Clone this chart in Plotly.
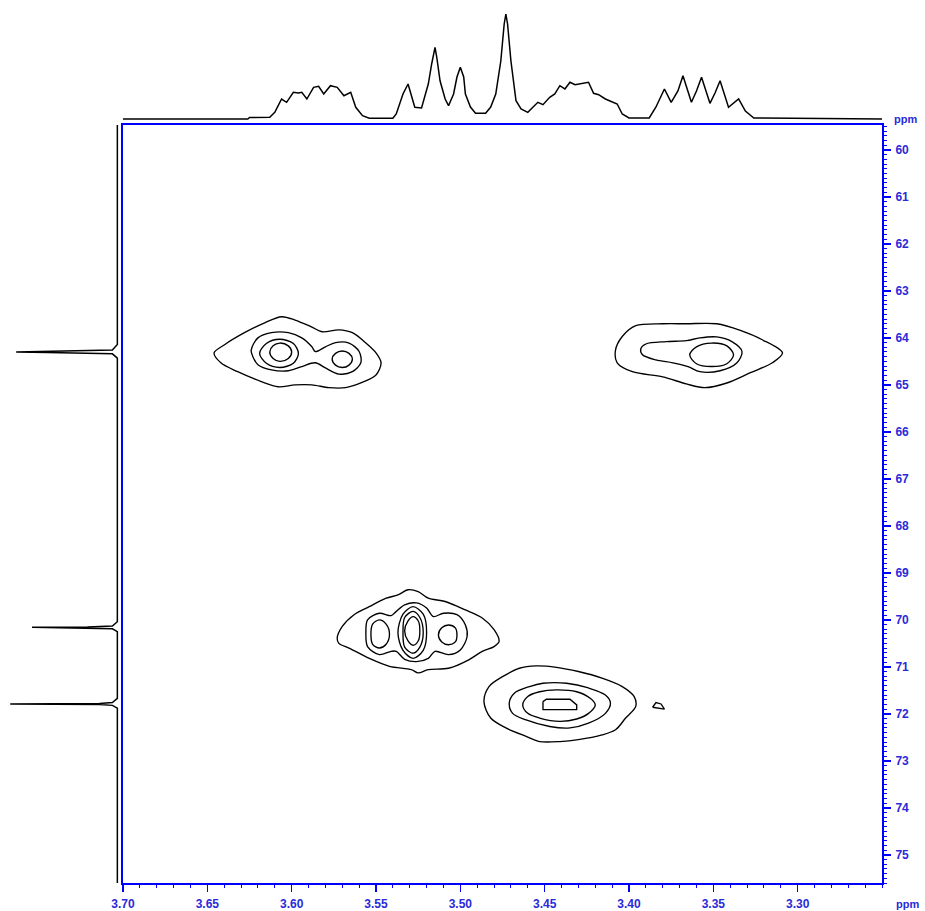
import plotly.graph_objects as go

# ---------------- 1D projection on top (F2, 1H) ----------------
top_ppm = [3.700, 3.626, 3.625, 3.613, 3.610, 3.608, 3.606, 3.603, 3.599, 3.596, 3.594, 3.591,
           3.587, 3.584, 3.581, 3.577, 3.573, 3.569, 3.565, 3.562, 3.558, 3.554, 3.540, 3.538,
           3.534, 3.531, 3.527, 3.523, 3.519, 3.517, 3.515, 3.514, 3.512, 3.509, 3.507, 3.504,
           3.502, 3.500, 3.498, 3.497, 3.494, 3.491, 3.485, 3.482, 3.479, 3.476, 3.474, 3.473,
           3.472, 3.470, 3.467, 3.464, 3.460, 3.457, 3.454, 3.451, 3.447, 3.444, 3.441, 3.438,
           3.435, 3.432, 3.429, 3.424, 3.421, 3.418, 3.414, 3.410, 3.407, 3.404, 3.400, 3.388,
           3.384, 3.379, 3.375, 3.371, 3.368, 3.363, 3.360, 3.357, 3.352, 3.349, 3.346, 3.341,
           3.335, 3.331, 3.326, 3.250]
top_int = [0, 0, 1.5, 1.7, 6.7, 13.3, 20, 16.7, 26.7, 26, 26.7, 20,
           31.7, 32.7, 25, 33.3, 31.7, 23.3, 26.7, 11.7, 3.3, 0.7, 0.7, 5,
           25, 35, 11.7, 11, 35, 55, 71.7, 62, 38, 20, 13.3, 25,
           42, 51.7, 42, 25, 12, 5.7, 5.7, 12, 25, 58, 95, 105,
           95, 58, 18.3, 10, 6.7, 11.7, 16.7, 14.3, 21.7, 25, 33.3, 30,
           36.7, 34.3, 35, 36.7, 25.7, 24.3, 20, 16.7, 15, 5, 1, 1,
           12, 30, 16.7, 28, 43.3, 16.7, 28, 41.7, 15.7, 26, 38.3, 11.7,
           20, 8, 1, 0]

# ---------------- 1D projection on the left (F1, 13C) ----------------
left_ppm = [59.40, 64.14, 64.26, 64.29, 64.30, 64.31, 64.34, 64.43,
            70.04, 70.13, 70.15, 70.16, 70.17, 70.19, 70.25,
            71.67, 71.76, 71.78, 71.79, 71.80, 71.82, 71.88, 75.70]
left_int = [0, 0, 5, 70, 102, 70, 5, 0,
            0, 5, 30, 86, 30, 5, 0,
            0, 5, 18, 108, 18, 5, 0, 0]

# ---------------- 2D contours (traced, ppm) ----------------
# cross peak at 3.60/3.57 ppm, 64.4 ppm
a_outer_x = [3.646, 3.640, 3.628, 3.616, 3.606, 3.598, 3.588, 3.582, 3.572, 3.564, 3.556, 3.550,
             3.547, 3.550, 3.559, 3.568, 3.578, 3.588, 3.598, 3.608, 3.618, 3.632, 3.642]
a_outer_y = [64.32, 64.15, 63.89, 63.68, 63.55, 63.62, 63.77, 63.87, 63.83, 63.89, 64.11, 64.32,
             64.53, 64.79, 64.96, 65.06, 65.06, 65.00, 65.00, 65.04, 64.93, 64.72, 64.53]
a_mid_x = [3.624, 3.620, 3.612, 3.602, 3.594, 3.588, 3.586, 3.580, 3.574, 3.566, 3.560, 3.559,
           3.564, 3.572, 3.580, 3.586, 3.594, 3.602, 3.612, 3.620, 3.623]
a_mid_y = [64.26, 64.00, 63.89, 63.89, 64.00, 64.19, 64.29, 64.19, 64.10, 64.11, 64.29, 64.53,
           64.72, 64.77, 64.64, 64.53, 64.61, 64.70, 64.68, 64.57, 64.40]
a_ring3_x = [3.619, 3.615, 3.607, 3.599, 3.596, 3.599, 3.607, 3.615]
a_ring3_y = [64.33, 64.12, 64.03, 64.12, 64.33, 64.54, 64.63, 64.54]
a_ring4_x = [3.613, 3.611, 3.607, 3.602, 3.600, 3.602, 3.607, 3.611]
a_ring4_y = [64.30, 64.17, 64.11, 64.17, 64.30, 64.44, 64.50, 64.44]
a_right_x = [3.576, 3.574, 3.570, 3.566, 3.564, 3.566, 3.570, 3.574]
a_right_y = [64.45, 64.33, 64.28, 64.33, 64.45, 64.58, 64.63, 64.58]

# cross peak at 3.36 ppm, 64.4 ppm
b_outer_x = [3.408, 3.404, 3.396, 3.380, 3.366, 3.348, 3.334, 3.321, 3.309, 3.315, 3.328, 3.342,
             3.355, 3.366, 3.380, 3.398, 3.407]
b_outer_y = [64.26, 63.97, 63.74, 63.70, 63.70, 63.70, 63.84, 64.04, 64.32, 64.53, 64.74, 64.96,
             65.06, 64.98, 64.83, 64.72, 64.53]
b_mid_x = [3.393, 3.390, 3.378, 3.366, 3.358, 3.348, 3.339, 3.333, 3.336, 3.346, 3.358, 3.365,
           3.374, 3.384, 3.392]
b_mid_y = [64.23, 64.13, 64.08, 64.06, 64.00, 63.98, 64.08, 64.29, 64.53, 64.70, 64.72, 64.61,
           64.53, 64.47, 64.36]
b_inner_x = [3.364, 3.360, 3.351, 3.342, 3.338, 3.342, 3.351, 3.360]
b_inner_y = [64.36, 64.19, 64.11, 64.17, 64.36, 64.55, 64.61, 64.55]

# cross peak at 3.53 ppm, 70.2 ppm
c_outer_x = [3.573, 3.570, 3.563, 3.554, 3.544, 3.537, 3.531, 3.525, 3.519, 3.509, 3.497, 3.487,
             3.480, 3.477, 3.480, 3.487, 3.495, 3.507, 3.519, 3.525, 3.529, 3.542, 3.554, 3.566,
             3.572]
c_outer_y = [70.39, 70.14, 69.89, 69.72, 69.54, 69.47, 69.36, 69.40, 69.54, 69.61, 69.79, 69.96,
             70.21, 70.46, 70.57, 70.67, 70.85, 71.03, 71.06, 71.13, 71.06, 70.99, 70.82, 70.60,
             70.50]
c_mid_x = [3.556, 3.555, 3.548, 3.541, 3.538, 3.533, 3.526, 3.520, 3.516, 3.510, 3.502, 3.497,
           3.496, 3.500, 3.507, 3.515, 3.519, 3.526, 3.533, 3.538, 3.541, 3.548, 3.555]
c_mid_y = [70.28, 70.00, 69.86, 69.91, 69.82, 69.68, 69.64, 69.75, 69.93, 69.86, 69.89, 70.11,
           70.36, 70.64, 70.74, 70.67, 70.82, 70.89, 70.84, 70.67, 70.67, 70.74, 70.57]
c_left_x = [3.553, 3.552, 3.548, 3.544, 3.542, 3.544, 3.548, 3.552]
c_left_y = [70.30, 70.09, 70.00, 70.09, 70.30, 70.52, 70.60, 70.52]
c_ringA_x = [3.537, 3.534, 3.528, 3.522, 3.520, 3.522, 3.528, 3.534]
c_ringA_y = [70.27, 69.88, 69.72, 69.88, 70.27, 70.65, 70.82, 70.65]
c_ringB_x = [3.534, 3.533, 3.528, 3.524, 3.522, 3.524, 3.528, 3.533]
c_ringB_y = [70.27, 69.95, 69.82, 69.95, 70.27, 70.58, 70.71, 70.58]
c_ringC_x = [3.533, 3.531, 3.528, 3.525, 3.524, 3.525, 3.528, 3.531]
c_ringC_y = [70.23, 70.02, 69.93, 70.02, 70.23, 70.45, 70.54, 70.45]
c_right_x = [3.513, 3.511, 3.507, 3.503, 3.502, 3.503, 3.507, 3.511]
c_right_y = [70.32, 70.17, 70.11, 70.17, 70.32, 70.47, 70.53, 70.47]

# cross peak at 3.44 ppm, 71.8 ppm
d_outer_x = [3.486, 3.483, 3.475, 3.465, 3.455, 3.443, 3.430, 3.416, 3.404, 3.397, 3.396, 3.402,
             3.408, 3.416, 3.430, 3.441, 3.453, 3.461, 3.473, 3.482]
d_outer_y = [71.74, 71.42, 71.21, 71.03, 70.98, 71.01, 71.10, 71.24, 71.42, 71.63, 71.84, 72.09,
             72.34, 72.45, 72.55, 72.59, 72.59, 72.48, 72.30, 72.09]
d_mid_x = [3.471, 3.468, 3.459, 3.451, 3.437, 3.424, 3.414, 3.411, 3.414, 3.424, 3.435, 3.447,
           3.461, 3.469]
d_mid_y = [71.77, 71.56, 71.42, 71.35, 71.35, 71.45, 71.60, 71.77, 71.99, 72.20, 72.30, 72.27,
           72.13, 71.99]
d_ring3_x = [3.463, 3.460, 3.453, 3.443, 3.431, 3.423, 3.420, 3.424, 3.431, 3.441, 3.453, 3.460]
d_ring3_y = [71.81, 71.63, 71.53, 71.49, 71.53, 71.67, 71.81, 71.99, 72.11, 72.16, 72.09, 71.99]
d_inner_x = [3.451, 3.449, 3.435, 3.431, 3.431, 3.451]
d_inner_y = [71.74, 71.69, 71.69, 71.81, 71.91, 71.91]
e_small_x = [3.386, 3.384, 3.381, 3.379]
e_small_y = [71.86, 71.76, 71.79, 71.90]

# axis tick values
x_ticks = [3.70, 3.65, 3.60, 3.55, 3.50, 3.45, 3.40, 3.35, 3.30]
y_ticks = list(range(60, 76))

smooth_loops = [
    (a_outer_x, a_outer_y), (a_mid_x, a_mid_y), (a_ring3_x, a_ring3_y), (a_ring4_x, a_ring4_y),
    (a_right_x, a_right_y),
    (b_outer_x, b_outer_y), (b_mid_x, b_mid_y), (b_inner_x, b_inner_y),
    (c_outer_x, c_outer_y), (c_mid_x, c_mid_y), (c_left_x, c_left_y), (c_ringA_x, c_ringA_y),
    (c_ringB_x, c_ringB_y), (c_ringC_x, c_ringC_y), (c_right_x, c_right_y),
    (d_outer_x, d_outer_y), (d_mid_x, d_mid_y), (d_ring3_x, d_ring3_y),
]
sharp_loops = [(d_inner_x, d_inner_y), (e_small_x, e_small_y)]

BLUE = "#0000ff"
TXT = "#2a2ad8"
W, H = 925, 911

fig = go.Figure()

for xs, ys in smooth_loops:
    fig.add_trace(go.Scatter(x=list(xs) + [xs[0]], y=list(ys) + [ys[0]], mode="lines",
                             line=dict(color="black", width=1.35, shape="spline", smoothing=0.9),
                             xaxis="x", yaxis="y", hoverinfo="skip"))
for xs, ys in sharp_loops:
    fig.add_trace(go.Scatter(x=list(xs) + [xs[0]], y=list(ys) + [ys[0]], mode="lines",
                             line=dict(color="black", width=1.35),
                             xaxis="x", yaxis="y", hoverinfo="skip"))

fig.add_trace(go.Scatter(x=top_ppm, y=top_int, mode="lines",
                         line=dict(color="black", width=1.5),
                         xaxis="x", yaxis="y2", hoverinfo="skip"))
fig.add_trace(go.Scatter(x=left_int, y=left_ppm, mode="lines",
                         line=dict(color="black", width=1.5),
                         xaxis="x2", yaxis="y", hoverinfo="skip"))

x0, x1 = 123 / W, 882 / W
y0, y1 = 1 - 883 / H, 1 - 125 / H

FONT = "Liberation Sans, Arial, sans-serif"
tickfont = dict(family=FONT, size=12, color=TXT, weight="bold")

fig.update_layout(
    template="none",
    width=W, height=H,
    margin=dict(l=0, r=0, t=0, b=0, pad=0),
    paper_bgcolor="white", plot_bgcolor="white",
    showlegend=False, hovermode=False,
    xaxis=dict(domain=[x0, x1], range=[3.70, 3.25], anchor="y", automargin=False,
               showline=True, linecolor=BLUE, linewidth=2, mirror=True,
               ticks="outside", ticklen=7, tickwidth=1.5, tickcolor=BLUE,
               tickvals=x_ticks, ticktext=[f"{v:.2f}" for v in x_ticks],
               ticklabelstandoff=2,
               minor=dict(ticks="outside", dtick=0.01, tick0=3.70, ticklen=3,
                          tickwidth=1, tickcolor=BLUE, showgrid=False),
               tickfont=tickfont, showgrid=False, zeroline=False),
    yaxis=dict(domain=[y0, y1], range=[75.6, 59.47], anchor="x", side="right", automargin=False,
               showline=True, linecolor=BLUE, linewidth=2, mirror=True,
               ticks="outside", ticklen=7, tickwidth=1.5, tickcolor=BLUE,
               tickvals=y_ticks, ticktext=[str(v) for v in y_ticks],
               ticklabelstandoff=2,
               minor=dict(ticks="outside", dtick=0.1, tick0=60, ticklen=3,
                          tickwidth=1, tickcolor=BLUE, showgrid=False),
               tickfont=tickfont, showgrid=False, zeroline=False),
    yaxis2=dict(domain=[y1, 1.0], range=[-6, 119], anchor="x", visible=False, automargin=False),
    xaxis2=dict(domain=[0, x0], range=[118.3, -5.7], anchor="y", visible=False, automargin=False),
    annotations=[
        dict(text="ppm", x=894 / W, y=1 - 904 / H, xref="paper", yref="paper",
             xanchor="left", yanchor="middle", showarrow=False,
             font=dict(family=FONT, size=11, color=TXT, weight="bold")),
        dict(text="ppm", x=892 / W, y=1 - 119 / H, xref="paper", yref="paper",
             xanchor="left", yanchor="middle", showarrow=False,
             font=dict(family=FONT, size=11, color=TXT, weight="bold")),
    ],
)

fig.write_html("out.html", config={"displayModeBar": False, "staticPlot": True},
               post_script="document.body.style.margin='0';document.body.style.overflow='hidden';")
